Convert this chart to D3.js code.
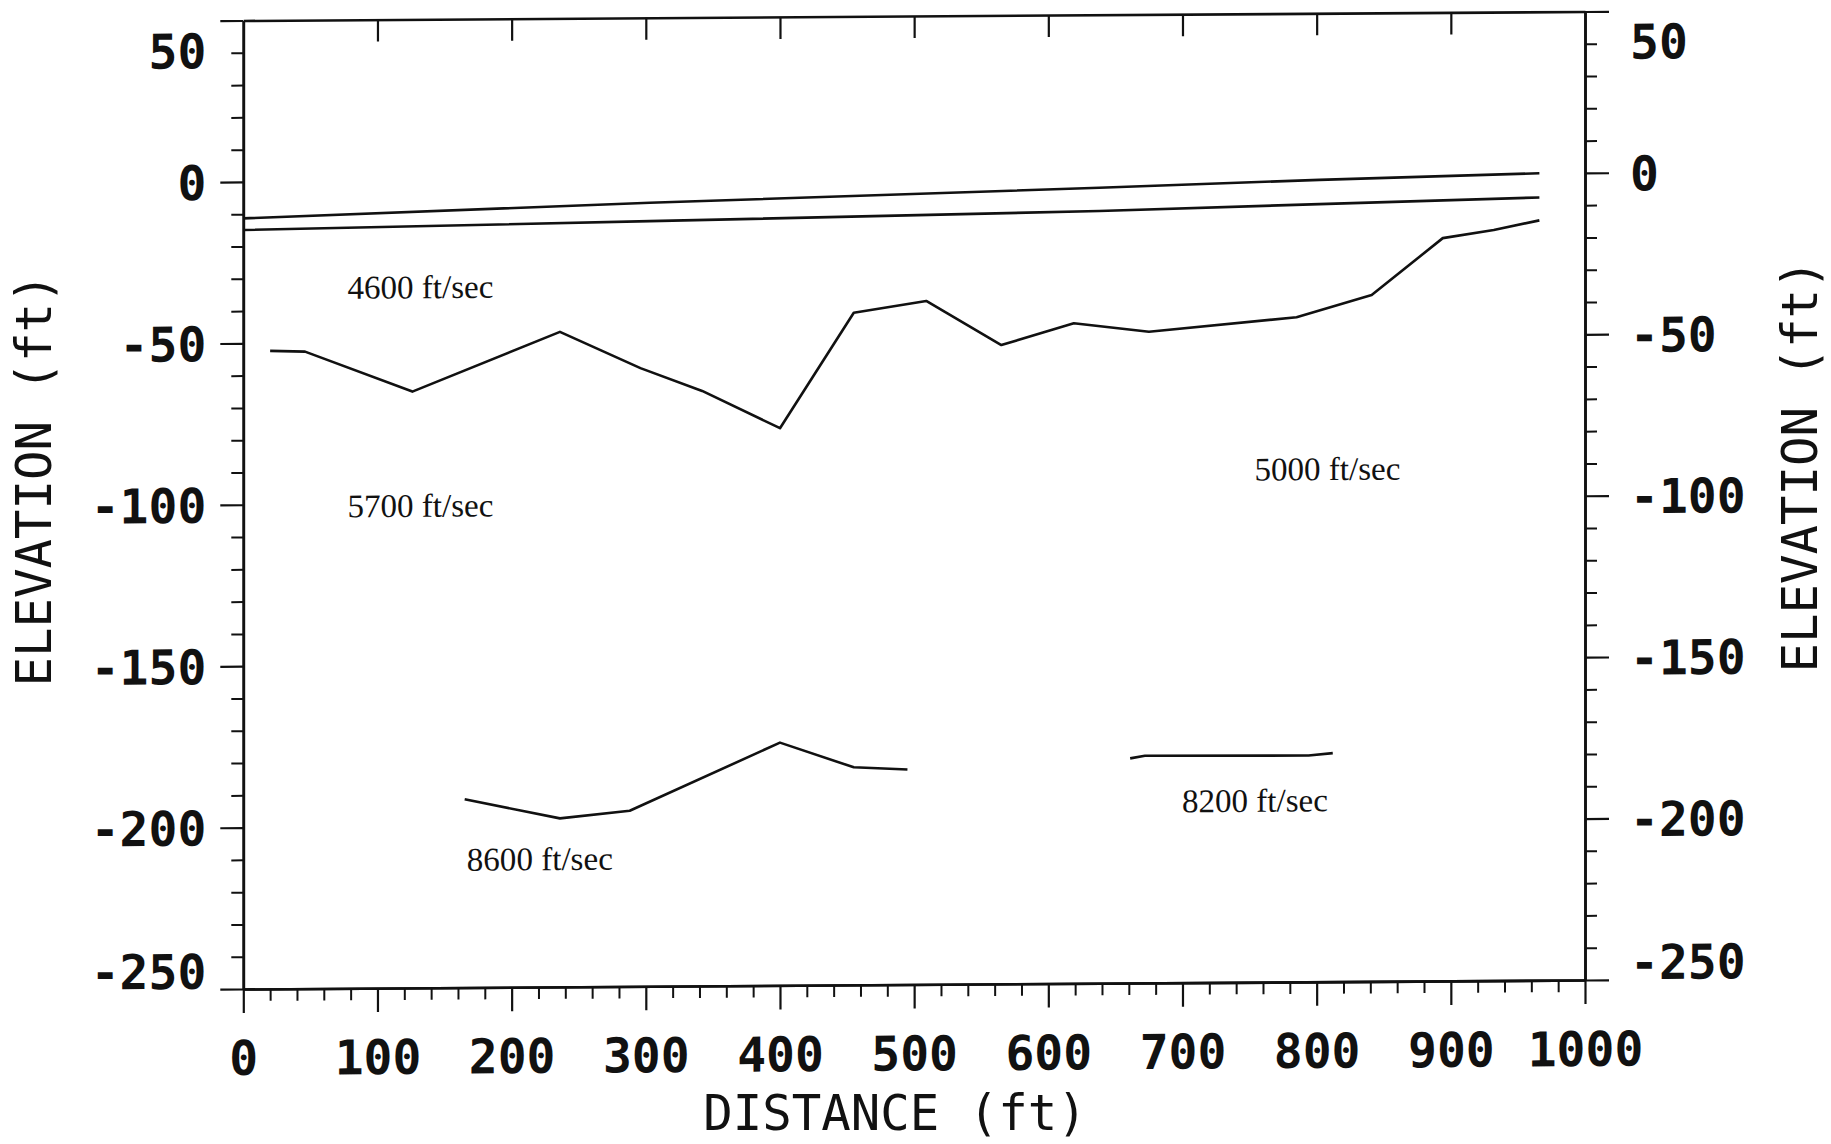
<!DOCTYPE html>
<html>
<head>
<meta charset="utf-8">
<title>Refraction profile</title>
<style>
body { margin: 0; background: #fff; }
svg { display: block; }
.tick text { font-family: 'DejaVu Sans Mono', monospace; font-weight: bold; font-size: 48px; fill: #111; }
.title { font-family: 'DejaVu Sans Mono', monospace; font-size: 49px; fill: #111; }
.vel { font-family: 'Liberation Serif', serif; font-size: 33px; fill: #111; }
</style>
<script src="https://cdnjs.cloudflare.com/ajax/libs/d3/7.8.5/d3.min.js"></script>
</head>
<body>
<script>

// boundaries: distance (ft) / elevation (ft)
const distTop = [0, 303, 638, 802, 966];
const elevTop = [-11.3, -7.3, -3.6, -1.6, 0.0];

const distSecond = [0, 303, 638, 802, 966];
const elevSecond = [-14.9, -13.0, -10.8, -9.1, -7.5];

const distRefr1 = [20, 46, 126, 236, 296, 342, 400, 455, 509, 565, 619, 675, 785, 841, 894, 932, 966];
const elevRefr1 = [-52.4, -52.7, -65.3, -47.1, -58.5, -65.7, -77.4, -41.8, -38.3, -52.1, -45.5, -48.3, -44.1, -37.4, -19.9, -17.5, -14.6];

const dist8600 = [165, 236, 288, 400, 455, 495];
const elev8600 = [-191.7, -197.8, -195.6, -174.8, -182.6, -183.4];

const dist8200 = [661, 672, 794, 812];
const elev8200 = [-180.4, -179.6, -179.9, -179.2];

// layer velocity annotations
const velocityLabels = ["4600 ft/sec", "5700 ft/sec", "5000 ft/sec", "8600 ft/sec", "8200 ft/sec"];
const labelDist = [132, 132, 808, 221, 754];
const labelElev = [-36.4, -104.1, -94.6, -213.8, -197.2];

const xMajorTicks = [0, 100, 200, 300, 400, 500, 600, 700, 800, 900, 1000];
const yMajorTicks = [50, 0, -50, -100, -150, -200, -250];

const W = 1831, H = 1144;

const x = d3.scaleLinear([0, 1000], [243.3, 1585]);
const y = d3.scaleLinear([-250, 50], [989, 20.5]);

// the scanned sheet is slightly skewed: right side sits ~9px higher
const skew = Math.atan(-9 / 1342) * 180 / Math.PI;

// plain hyphen, like the plotter font
const fmt = d => String(d);

const svg = d3.select("body").append("svg")
    .attr("width", W)
    .attr("height", H);

const g = svg.append("g")
    .attr("transform", `translate(${x(0)},0) skewY(${skew}) translate(${-x(0)},0)`);

function style(sel, w) {
  sel.selectAll(".domain").attr("stroke", "#111").attr("stroke-width", 2.6);
  sel.selectAll(".tick line").attr("stroke", "#111").attr("stroke-width", w);
}

const xMinor = d3.range(20, 1000, 20).filter(v => v % 100 !== 0);
const yMinor = d3.range(-240, 50, 10).filter(v => v % 50 !== 0);

// top frame, ticks pointing in
g.append("g")
    .attr("transform", `translate(0,${y(50)})`)
    .call(d3.axisBottom(x).tickValues(xMajorTicks.slice(1, -1)).tickSize(22).tickSizeOuter(0).tickFormat(""))
    .call(style, 2.2);

// bottom
g.append("g")
    .attr("transform", `translate(0,${y(-250)})`)
    .call(d3.axisBottom(x).tickValues(xMinor).tickSize(12).tickSizeOuter(0).tickFormat(""))
    .call(style, 2);

const bottom = g.append("g")
    .attr("transform", `translate(0,${y(-250)})`)
    .call(d3.axisBottom(x).tickValues(xMajorTicks).tickSize(24).tickSizeOuter(0).tickFormat(fmt))
    .call(style, 2.2);
bottom.selectAll(".tick text").attr("y", 86).attr("dy", null);

// left
g.append("g")
    .attr("transform", `translate(${x(0)},0)`)
    .call(d3.axisLeft(y).tickValues(yMinor).tickSize(12).tickSizeOuter(0).tickFormat(""))
    .call(style, 2);

const left = g.append("g")
    .attr("transform", `translate(${x(0)},0)`)
    .call(d3.axisLeft(y).tickValues(yMajorTicks).tickSize(23).tickPadding(14).tickSizeOuter(0).tickFormat(fmt))
    .call(style, 2.2);

// right
g.append("g")
    .attr("transform", `translate(${x(1000)},0)`)
    .call(d3.axisRight(y).tickValues(yMinor).tickSize(12).tickSizeOuter(0).tickFormat(""))
    .call(style, 2);

const right = g.append("g")
    .attr("transform", `translate(${x(1000)},0)`)
    .call(d3.axisRight(y).tickValues(yMajorTicks).tickSize(24).tickPadding(21).tickSizeOuter(0).tickFormat(fmt))
    .call(style, 2.2);

// end labels are pulled inside the frame
[left, right].forEach(a => {
  a.selectAll(".tick text")
      .attr("dy", d => d === 50 ? 47 : d === -250 ? -1 : 17.3);
});

// boundary lines
const series = [
  [distTop, elevTop],
  [distSecond, elevSecond],
  [distRefr1, elevRefr1],
  [dist8600, elev8600],
  [dist8200, elev8200]
];

const line = d3.line()
    .x(p => x(p[0]))
    .y(p => y(p[1]));

g.append("g")
  .selectAll("path")
  .data(series)
  .join("path")
    .attr("d", s => line(d3.zip(s[0], s[1])))
    .attr("fill", "none")
    .attr("stroke", "#111")
    .attr("stroke-width", 2.6)
    .attr("stroke-linejoin", "round");

g.append("g")
  .selectAll("text")
  .data(d3.range(velocityLabels.length))
  .join("text")
    .attr("class", "vel")
    .attr("x", i => x(labelDist[i]))
    .attr("y", i => y(labelElev[i]))
    .attr("text-anchor", "middle")
    .attr("textLength", 146)
    .attr("lengthAdjust", "spacingAndGlyphs")
    .text(i => velocityLabels[i]);

// axis titles
svg.append("text")
    .attr("class", "title")
    .attr("transform", "translate(51,480) rotate(-90)")
    .attr("text-anchor", "middle")
    .text("ELEVATION (ft)");

svg.append("text")
    .attr("class", "title")
    .attr("transform", "translate(1817,466) rotate(-90)")
    .attr("text-anchor", "middle")
    .text("ELEVATION (ft)");

svg.append("text")
    .attr("class", "title")
    .attr("x", 895)
    .attr("y", 1130)
    .attr("text-anchor", "middle")
    .text("DISTANCE (ft)");

</script>
</body>
</html>
